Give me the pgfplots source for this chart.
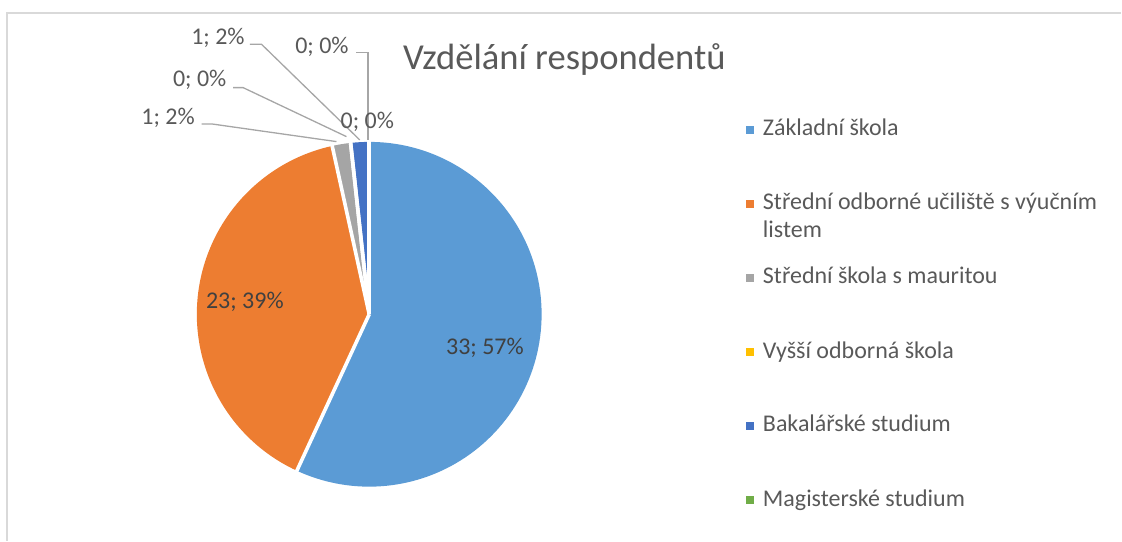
\documentclass[border=0pt]{standalone}
\usepackage{pgfplots}
\pgfplotsset{compat=1.18}
\usepackage{pgfplotstable}
\usepackage{fontspec}
\setmainfont{Carlito}

\definecolor{cA}{HTML}{5B9BD5}
\definecolor{cB}{HTML}{ED7D31}
\definecolor{cC}{HTML}{A5A5A5}
\definecolor{cD}{HTML}{FFC000}
\definecolor{cE}{HTML}{4472C4}
\definecolor{cF}{HTML}{70AD47}
\definecolor{txt}{HTML}{595959}
\definecolor{intxt}{HTML}{404040}
\definecolor{leader}{HTML}{A6A6A6}
\definecolor{frame}{HTML}{D9D9D9}

\pgfplotstableread{
name value
Zakladni 33
SOU 23
SS 1
VOS 0
Bc 1
Mgr 0
}\piedata

\pgfplotstablegetelem{0}{value}\of\piedata \let\vA\pgfplotsretval
\pgfplotstablegetelem{1}{value}\of\piedata \let\vB\pgfplotsretval
\pgfplotstablegetelem{2}{value}\of\piedata \let\vC\pgfplotsretval
\pgfplotstablegetelem{3}{value}\of\piedata \let\vD\pgfplotsretval
\pgfplotstablegetelem{4}{value}\of\piedata \let\vE\pgfplotsretval
\pgfplotstablegetelem{5}{value}\of\piedata \let\vF\pgfplotsretval
\pgfmathsetmacro\total{\vA+\vB+\vC+\vD+\vE+\vF}
\pgfmathsetmacro\angA{90-360*\vA/\total}
\pgfmathsetmacro\angB{\angA-360*\vB/\total}
\pgfmathsetmacro\angC{\angB-360*\vC/\total}
\pgfmathsetmacro\angD{\angC-360*\vD/\total}
\pgfmathsetmacro\angE{\angD-360*\vE/\total}
\def\R{172.5pt}

\tikzset{
  lbl/.style={font=\fontsize{24}{28.8}\selectfont, text=txt, inner sep=0pt},
  ldr/.style={draw=leader, line width=1.3pt},
  sep/.style={white, line width=3.6pt},
}

\begin{document}
\begin{tikzpicture}
\begin{axis}[
  at={(0,0)}, anchor=south west,
  width=1122pt, height=541pt, scale only axis,
  xmin=0, xmax=1122, ymin=0, ymax=541, y dir=reverse,
  hide axis, clip=false,
]
\path (axis cs:0,0) rectangle (axis cs:1122,541);
% frame
\draw[frame, line width=1.6pt] (axis cs:7,541) -- (axis cs:7,13) -- (axis cs:1122,13);

% slices
\fill[cA] (axis cs:369.5,314.5) -- ++(90:\R) arc[start angle=90, end angle=\angA, radius=\R] -- cycle;
\fill[cB] (axis cs:369.5,314.5) -- ++(\angA:\R) arc[start angle=\angA, end angle=\angB, radius=\R] -- cycle;
\fill[cC] (axis cs:369.5,314.5) -- ++(\angB:\R) arc[start angle=\angB, end angle=\angC, radius=\R] -- cycle;
\fill[cE] (axis cs:369.5,314.5) -- ++(\angD:\R) arc[start angle=\angD, end angle=\angE, radius=\R] -- cycle;
\draw[sep] (axis cs:369.5,314.5) -- ++(90:175pt);
\draw[sep] (axis cs:369.5,314.5) -- ++(\angA:175pt);
\draw[sep] (axis cs:369.5,314.5) -- ++(\angB:175pt);
\draw[sep] (axis cs:369.5,314.5) -- ++(\angC:175pt);
\draw[sep] (axis cs:369.5,314.5) -- ++(\angD:175pt);

% data labels
\node[lbl, text=intxt, anchor=base] at (axis cs:485.3,355) {33; 57\%};
\node[lbl, text=intxt, anchor=base] at (axis cs:245,309) {23; 39\%};
\node[lbl, anchor=base east] at (axis cs:195,125) {1; 2\%};
\draw[ldr] (axis cs:201.7,124) -- (axis cs:211.7,124) -- (axis cs:336.7,141.7);
\node[lbl, anchor=base east] at (axis cs:226.7,86.7) {0; 0\%};
\draw[ldr] (axis cs:233.3,87.7) -- (axis cs:243.3,87.7) -- (axis cs:346.7,136.7);
\node[lbl, anchor=base east] at (axis cs:245,45) {1; 2\%};
\draw[ldr] (axis cs:250,44.3) -- (axis cs:261.7,44.3) -- (axis cs:360,140);
\node[lbl, anchor=base east] at (axis cs:349,53.3) {0; 0\%};
\draw[ldr] (axis cs:356.7,52.3) -- (axis cs:368.3,52.3) -- (axis cs:368.3,140);
\node[lbl, anchor=base] at (axis cs:367.5,128.3) {0; 0\%};

% title
\node[font=\fontsize{36.6}{44}\selectfont, text=txt, inner sep=0pt, anchor=base west] at (axis cs:403.3,70) {Vzdělání respondentů};

% legend
\fill[cA] (axis cs:747,126) rectangle (axis cs:755,134);
\node[lbl, anchor=base west] at (axis cs:763.3,136) {Základní škola};
\fill[cB] (axis cs:747,200) rectangle (axis cs:755,208);
\node[lbl, anchor=base west] at (axis cs:763.3,210) {Střední odborné učiliště s výučním};
\node[lbl, anchor=base west] at (axis cs:763.3,237.3) {listem};
\fill[cC] (axis cs:747,274) rectangle (axis cs:755,282);
\node[lbl, anchor=base west] at (axis cs:763.3,284) {Střední škola s mauritou};
\fill[cD] (axis cs:747,348) rectangle (axis cs:755,356);
\node[lbl, anchor=base west] at (axis cs:763.3,358.3) {Vyšší odborná škola};
\fill[cE] (axis cs:747,422) rectangle (axis cs:755,430);
\node[lbl, anchor=base west] at (axis cs:763.3,432.3) {Bakalářské studium};
\fill[cF] (axis cs:747,496) rectangle (axis cs:755,504);
\node[lbl, anchor=base west] at (axis cs:763.3,506.7) {Magisterské studium};
\end{axis}
\end{tikzpicture}
\end{document}
